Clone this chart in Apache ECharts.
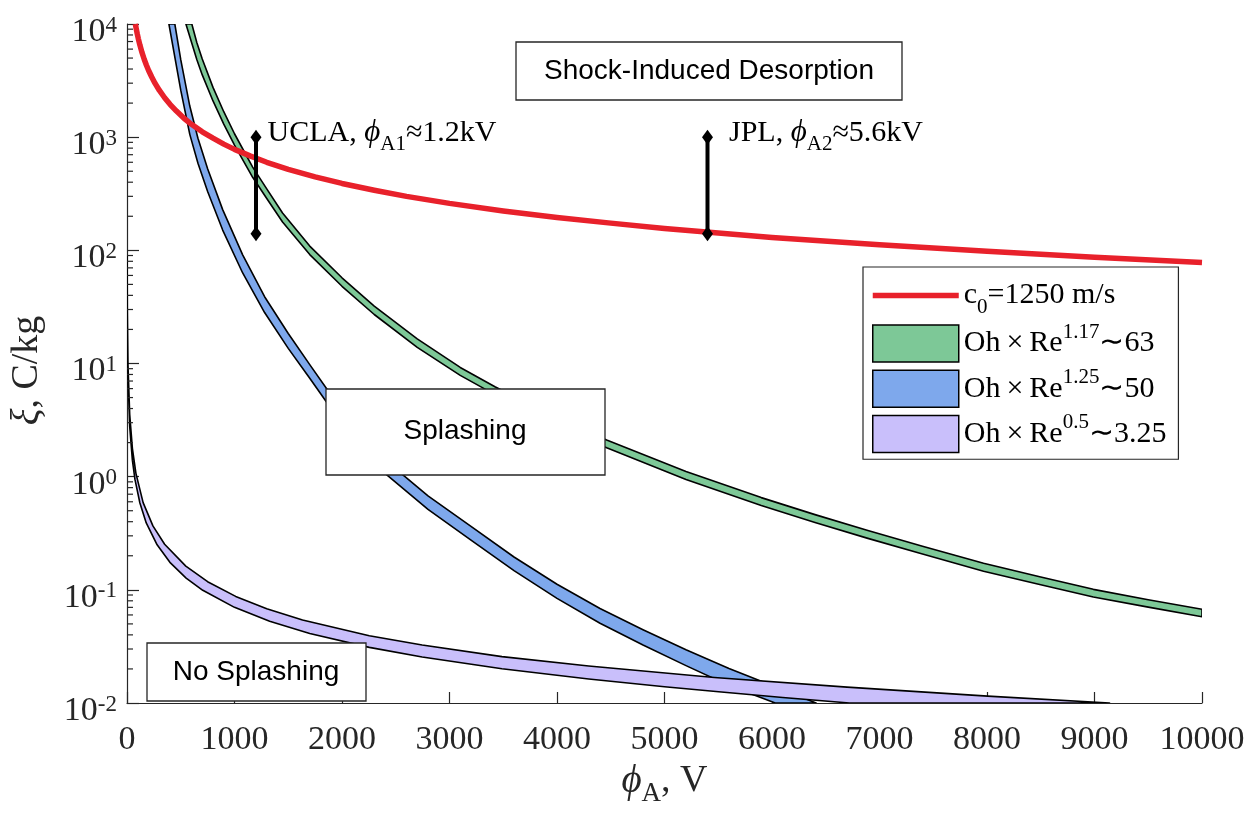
<!DOCTYPE html>
<html>
<head>
<meta charset="utf-8">
<script src="https://cdn.jsdelivr.net/npm/echarts@6.0.0/dist/echarts.min.js"></script>
<style>
html,body{margin:0;padding:0;background:#fff;}
#chart{width:1258px;height:814px;}
</style>
</head>
<body>
<div id="chart"></div>
<script>
// ---------- data ----------
const xTicks = [0,1000,2000,3000,4000,5000,6000,7000,8000,9000,10000];
const yTickExponents = [-2,-1,0,1,2,3,4];

// red line: c0 = 1250 m/s  [phi_A (V), xi (C/kg)]
const redC0 = [[78,10000],[85,9190],[95,8220],[105,7440],[120,6510],[140,5580],[160,4880],[180,4340],[200,3900],[230,3400],[260,3000],[300,2600],[350,2230],[400,1950],[460,1700],[530,1470],[600,1300],[700,1115],[800,980],[900,868],[1000,780],[1150,680],[1300,600],[1500,520],[1750,446],[2000,390],[2300,340],[2600,300],[3000,260],[3500,223],[4000,195],[4500,174],[5000,156],[6000,130],[7000,112],[8000,98],[9000,87],[10000,78]];

// green band: Oh x Re^1.17 ~ 63
const greenUpper = [[603,10000],[650,6839],[700,4898],[800,2754],[900,1679],[1000,1072],[1169,543],[1300,349],[1447,214],[1700,109],[2000,57.2],[2300,32.2],[2700,16.5],[3100,9.23],[3423,6.24],[4000,3.27],[4462,2.11],[5200,1.11],[5900,0.653],[6400,0.462],[6892,0.335],[7400,0.243],[7968,0.172],[8500,0.130],[8989,0.101],[9500,0.0818],[10000,0.0673]];
const greenLower = [[548,10000],[650,4842],[700,3548],[800,2089],[900,1303],[1000,851],[1169,442],[1300,287],[1447,178],[1700,91.7],[2000,48.1],[2300,27.1],[2700,13.9],[3100,7.85],[3423,5.31],[4000,2.79],[4462,1.80],[5200,0.944],[5900,0.556],[6400,0.394],[6892,0.285],[7400,0.207],[7968,0.146],[8500,0.111],[8989,0.0863],[9500,0.0703],[10000,0.0578]];

// blue band: Oh x Re^1.25 ~ 50
const blueUpper = [[445,10000],[500,4842],[584,1884],[660,977],[750,525],[890,229],[1076,91.2],[1280,38.9],[1500,18.4],[1700,9.77],[1900,5.25],[2100,3.02],[2400,1.41],[2800,0.676],[3200,0.363],[3600,0.195],[4000,0.112],[4400,0.0684],[4800,0.0444],[5200,0.0295],[5600,0.0202],[6000,0.0143],[6410,0.01]];
const blueLower = [[390,10000],[500,2600],[584,1059],[660,589],[750,331],[890,151],[1076,63.1],[1280,28.2],[1500,13.6],[1700,7.41],[1900,3.98],[2100,2.29],[2400,1.07],[2800,0.513],[3200,0.275],[3600,0.148],[4000,0.0841],[4400,0.0507],[4800,0.0325],[5200,0.0214],[5600,0.0143],[6030,0.01]];

// purple band: Oh x Re^0.5 ~ 3.25
const purpleUpper = [[1,90],[3,30],[9,9.8],[25,3.55],[50,1.78],[83,1.07],[150,0.59],[241,0.367],[350,0.253],[547,0.162],[750,0.118],[1011,0.0875],[1300,0.0681],[1633,0.0542],[2254,0.0393],[2746,0.0325],[3488,0.0257],[4295,0.0212],[5464,0.0168],[6698,0.0138],[8006,0.0115],[9140,0.01]];
const purpleLower = [[1,70],[3,23.3],[9,7.8],[25,2.8],[50,1.4],[74,0.945],[120,0.585],[179,0.39],[280,0.25],[399,0.175],[550,0.127],[705,0.099],[1000,0.07],[1327,0.0528],[1700,0.0412],[2254,0.031],[2746,0.0255],[3488,0.0201],[4295,0.0163],[5000,0.0139],[5529,0.0125],[6100,0.0112],[6720,0.01]];

// measurement bars
const uclaBar = [[1200,1000],[1200,140]];
const jplBar = [[5400,1000],[5400,140]];

// series names / legend texts
const names = {
  red: 'c0=1250 m/s',
  green: 'Oh×Re^1.17~63',
  blue: 'Oh×Re^1.25~50',
  purple: 'Oh×Re^0.5~3.25'
};
const legendRich = {};
legendRich[names.red] = '{n|c}{sub|0}{n|=1250 m/s}';
legendRich[names.green] = '{n|Oh\u2009×\u2009Re}{sup|1.17}{n|∼63}';
legendRich[names.blue] = '{n|Oh\u2009×\u2009Re}{sup|1.25}{n|∼50}';
legendRich[names.purple] = '{n|Oh\u2009×\u2009Re}{sup|0.5}{n|∼3.25}';

const colors = {red:'#e8212b', green:'#7dc897', blue:'#7ea8ec', purple:'#c9bffb'};
const serif = 'Liberation Serif';
const ink = '#262626';

// minor ticks of the log axis (2..9 x 10^n)
const minorTickVals = [];
for (let e = -2; e < 4; e++) for (let k = 2; k <= 9; k++) minorTickVals.push([0, k * Math.pow(10, e)]);

function band(name, upper, lower, color, z) {
  const poly = upper.concat(lower.slice().reverse());
  return {
    type: 'custom', name: name, coordinateSystem: 'cartesian2d',
    data: poly, encode: {x: 0, y: 1}, clip: true, silent: true, z: z,
    itemStyle: {color: color, borderColor: '#000', borderWidth: 1.5},
    renderItem: function (params, api) {
      if (params.dataIndex !== 0) return null;
      const pts = poly.map(function (p) { return api.coord(p); });
      return {type: 'polygon', shape: {points: pts},
        style: {fill: color, stroke: '#000', lineWidth: 1.6, lineJoin: 'round'}};
    }
  };
}

const textRich = {
  n: {fontFamily: serif, fontSize: 30, color: '#000', lineHeight: 44},
  i: {fontFamily: serif, fontSize: 31, fontStyle: 'italic', color: '#000', lineHeight: 44},
  sub: {fontFamily: serif, fontSize: 21, color: '#000', lineHeight: 14, verticalAlign: 'bottom'}
};

function barSeries(data, labelRich, dist) {
  return {
    type: 'line', data: [
      {value: data[0], label: {show: true, position: 'right', distance: dist, offset: [0, -4],
        formatter: labelRich, rich: textRich}},
      {value: data[1]}
    ],
    symbol: 'diamond', symbolSize: [11, 15], showSymbol: true,
    lineStyle: {color: '#000', width: 4}, itemStyle: {color: '#000'},
    silent: true, z: 10, animation: false
  };
}

const redLegendIcon = 'path://M0,0L0.001,0Z M0,15.75L86,15.75L86,21.25L0,21.25Z M86,37L85.999,37Z';

const chart = echarts.init(document.getElementById('chart'), null, {renderer: 'canvas'});
chart.setOption({
  animation: false,
  backgroundColor: '#fff',
  grid: {left: 124, right: 56, top: 24, bottom: 111, containLabel: false},
  xAxis: {
    type: 'value', min: 0, max: 10000, interval: 1000,
    name: '{i|ϕ}{sub|A}{n|, V}', nameLocation: 'middle', nameGap: 42,
    nameTextStyle: {rich: {
      n: {fontFamily: serif, fontSize: 38, color: ink, lineHeight: 52},
      i: {fontFamily: serif, fontSize: 39, fontStyle: 'italic', color: ink, lineHeight: 52},
      sub: {fontFamily: serif, fontSize: 27, color: ink, lineHeight: 18, verticalAlign: 'bottom'}
    }},
    axisLine: {show: true, lineStyle: {color: ink, width: 1.2}},
    axisTick: {show: true, inside: true, length: 11, lineStyle: {color: ink, width: 1.2}},
    axisLabel: {margin: 20, fontFamily: serif, fontSize: 34, color: ink,
      formatter: function (v) { return xTicks.indexOf(v) >= 0 ? String(v) : ''; }},
    splitLine: {show: false}
  },
  yAxis: {
    type: 'log', logBase: 10, min: 0.01, max: 10000, splitNumber: 6,
    name: '{i|ξ}{n|, C/kg}', nameLocation: 'middle', nameRotate: 90, nameGap: 80,
    nameTextStyle: {padding: [0, 14, 0, 0], rich: {
      n: {fontFamily: serif, fontSize: 38, color: ink},
      i: {fontFamily: serif, fontSize: 39, fontStyle: 'italic', color: ink}
    }},
    axisLine: {show: true, lineStyle: {color: ink, width: 1.2}},
    axisTick: {show: true, inside: true, length: 12, lineStyle: {color: ink, width: 1.2}},
    axisLabel: {margin: 10, padding: [16, 0, 0, 0],
      formatter: function (v) {
        const e = Math.round(Math.log10(v));
        return yTickExponents.indexOf(e) >= 0 ? '{b|10}{s|' + e + '}' : '';
      },
      rich: {
        b: {fontFamily: serif, fontSize: 34, color: ink, lineHeight: 36},
        s: {fontFamily: serif, fontSize: 23, color: ink, lineHeight: 15, verticalAlign: 'top'}
      }},
    splitLine: {show: false}
  },
  legend: {
    orient: 'vertical', left: 863, top: 267,
    itemWidth: 86, itemHeight: 37, itemGap: 4,
    padding: [10, 12, 6, 9],
    borderColor: ink, borderWidth: 1.2, backgroundColor: '#fff',
    selectedMode: false,
    data: [
      {name: names.red, icon: redLegendIcon, itemStyle: {color: colors.red, borderWidth: 0}},
      {name: names.green, icon: 'rect', itemStyle: {color: colors.green, borderColor: '#000', borderWidth: 1.5}},
      {name: names.blue, icon: 'rect', itemStyle: {color: colors.blue, borderColor: '#000', borderWidth: 1.5}},
      {name: names.purple, icon: 'rect', itemStyle: {color: colors.purple, borderColor: '#000', borderWidth: 1.5}}
    ],
    formatter: function (name) { return legendRich[name]; },
    textStyle: {rich: {
      n: {fontFamily: serif, fontSize: 30, color: '#000', lineHeight: 44},
      sup: {fontFamily: serif, fontSize: 21, color: '#000', lineHeight: 24, verticalAlign: 'top'},
      sub: {fontFamily: serif, fontSize: 21, color: '#000', lineHeight: 14, verticalAlign: 'bottom'}
    }}
  },
  series: [
    band(names.green, greenUpper, greenLower, colors.green, 2),
    band(names.blue, blueUpper, blueLower, colors.blue, 3),
    band(names.purple, purpleUpper, purpleLower, colors.purple, 4),
    {
      type: 'line', name: names.red, data: redC0, smooth: false,
      showSymbol: false, symbol: 'none', clip: true,
      lineStyle: {color: colors.red, width: 5.5, join: 'round'}, itemStyle: {color: colors.red},
      silent: true, z: 6
    },
    barSeries(uclaBar, '{n|UCLA, }{i|ϕ}{sub|A1}{n|≈1.2kV}', 6),
    barSeries(jplBar, '{n|JPL, }{i|ϕ}{sub|A2}{n|≈5.6kV}', 16),
    {
      type: 'custom', coordinateSystem: 'cartesian2d', data: minorTickVals, encode: {x: 0, y: 1},
      silent: true, z: 8,
      renderItem: function (params, api) {
        const p = api.coord([api.value(0), api.value(1)]);
        return {type: 'line', shape: {x1: p[0], y1: p[1], x2: p[0] + 6, y2: p[1]},
          style: {stroke: ink, lineWidth: 1.2}};
      }
    }
  ],
  graphic: [
    {type: 'rect', z: 100, shape: {x: 516, y: 42, width: 386, height: 58},
      style: {fill: '#fff', stroke: ink, lineWidth: 1.3}},
    {type: 'text', z: 101, x: 709, y: 71,
      style: {text: 'Shock-Induced Desorption', font: '28px "Liberation Sans"', fill: '#000', align: 'center', verticalAlign: 'middle'}},
    {type: 'rect', z: 100, shape: {x: 326, y: 389, width: 279, height: 86},
      style: {fill: '#fff', stroke: ink, lineWidth: 1.3}},
    {type: 'text', z: 101, x: 465, y: 431,
      style: {text: 'Splashing', font: '28px "Liberation Sans"', fill: '#000', align: 'center', verticalAlign: 'middle'}},
    {type: 'rect', z: 100, shape: {x: 147, y: 643, width: 219, height: 58},
      style: {fill: '#fff', stroke: ink, lineWidth: 1.3}},
    {type: 'text', z: 101, x: 256, y: 672,
      style: {text: 'No Splashing', font: '28px "Liberation Sans"', fill: '#000', align: 'center', verticalAlign: 'middle'}}
  ]
});
</script>
</body>
</html>
